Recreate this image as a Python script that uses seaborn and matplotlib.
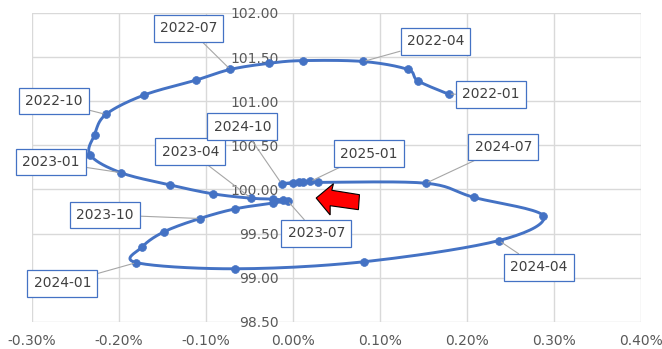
import matplotlib
matplotlib.use("Agg")
import matplotlib.pyplot as plt
from matplotlib.patches import Polygon
from matplotlib.ticker import FuncFormatter, MultipleLocator
import numpy as np
import seaborn as sns

# monthly points, Jan 2022 .. Jan 2025 (x in %, y index level)
months = ["2022-01", "2022-02", "2022-03", "2022-04", "2022-05", "2022-06",
          "2022-07", "2022-08", "2022-09", "2022-10", "2022-11", "2022-12",
          "2023-01", "2023-02", "2023-03", "2023-04", "2023-05", "2023-06",
          "2023-07", "2023-08", "2023-09", "2023-10", "2023-11", "2023-12",
          "2024-01", "2024-02", "2024-03", "2024-04", "2024-05", "2024-06",
          "2024-07", "2024-08", "2024-09", "2024-10", "2024-11", "2024-12",
          "2025-01"]
x_vals = [0.179, 0.144, 0.132, 0.081, 0.0115, -0.027,
          -0.072, -0.111, -0.171, -0.215, -0.228, -0.233,
          -0.198, -0.141, -0.092, -0.048, -0.023, -0.0115,
          -0.006, -0.023, -0.066, -0.107, -0.148, -0.173,
          -0.180, -0.066, 0.082, 0.237, 0.288, 0.208,
          0.153, 0.029, 0.012, -0.013, 0.000, 0.007,
          0.020]
y_vals = [101.08, 101.23, 101.36, 101.45, 101.46, 101.43,
          101.36, 101.24, 101.07, 100.85, 100.62, 100.39,
          100.19, 100.05, 99.95, 99.90, 99.89, 99.88,
          99.87, 99.845, 99.78, 99.67, 99.52, 99.35,
          99.17, 99.10, 99.18, 99.42, 99.70, 99.91,
          100.07, 100.08, 100.085, 100.065, 100.07, 100.08,
          100.09]

# where each quarterly label box sits (data coords)
label_pos = {
    "2022-01": (0.228, 101.076), "2022-04": (0.164, 101.678),
    "2022-07": (-0.120, 101.826), "2022-10": (-0.275, 101.00),
    "2023-01": (-0.278, 100.309), "2023-04": (-0.118, 100.428),
    "2023-07": (0.027, 99.502), "2023-10": (-0.216, 99.712),
    "2024-01": (-0.265, 98.934), "2024-04": (0.283, 99.116),
    "2024-07": (0.242, 100.48), "2024-10": (-0.058, 100.712),
    "2025-01": (0.087, 100.406),
}

BLUE = "#4472C4"

sns.set_style("white")
plt.rcParams["font.family"] = ["DejaVu Sans"]

fig = plt.figure(figsize=(6.62, 3.49), dpi=100)
ax = fig.add_axes([0.0483, 0.0782, 0.9195, 0.8846])

# smooth curve (Catmull-Rom as cubic Bezier, like Excel's smoothed line)
pts = np.column_stack([x_vals, y_vals])
n = len(pts)
curve = []
t = np.linspace(0, 1, 20)[:, None]
for i in range(n - 1):
    p0 = pts[max(i - 1, 0)]
    p1 = pts[i]
    p2 = pts[i + 1]
    p3 = pts[min(i + 2, n - 1)]
    c1 = p1 + (p2 - p0) / 6
    c2 = p2 - (p3 - p1) / 6
    seg = ((1 - t) ** 3) * p1 + 3 * ((1 - t) ** 2) * t * c1 + 3 * (1 - t) * t ** 2 * c2 + t ** 3 * p2
    curve.append(seg if i == 0 else seg[1:])
curve = np.vstack(curve)

sns.lineplot(x=curve[:, 0], y=curve[:, 1], sort=False, estimator=None,
             color=BLUE, linewidth=2.1, ax=ax, zorder=3)
sns.scatterplot(x=x_vals, y=y_vals, color=BLUE, s=32, edgecolor=BLUE,
                linewidth=0.5, ax=ax, zorder=4)

# quarterly labels
for m, (lx, ly) in label_pos.items():
    i = months.index(m)
    ax.annotate(m, xy=(x_vals[i], y_vals[i]), xytext=(lx, ly),
                ha="center", va="center", fontsize=10, color="#404040",
                bbox=dict(boxstyle="square,pad=0.45", fc="white", ec=BLUE, lw=0.9),
                arrowprops=dict(arrowstyle="-", color="#A6A6A6", lw=0.8,
                                shrinkA=0, shrinkB=2),
                zorder=6)

# red block arrow
arrow = [(0.0268, 99.902), (0.0467, 100.065), (0.0448, 99.99), (0.0766, 99.94),
         (0.0754, 99.77), (0.0429, 99.815), (0.0429, 99.71)]
ax.add_patch(Polygon(arrow, closed=True, fc="#FF0000", ec="black", lw=0.8, zorder=7))

ax.set_xlim(-0.30, 0.40)
ax.set_ylim(98.5, 102.0)
ax.xaxis.set_major_locator(MultipleLocator(0.1))
ax.yaxis.set_major_locator(MultipleLocator(0.5))
ax.xaxis.set_major_formatter(FuncFormatter(lambda v, p: f"{v:.2f}%"))
ax.yaxis.set_major_formatter(FuncFormatter(lambda v, p: f"{v:.2f}"))
ax.grid(True, color="#D9D9D9", linewidth=1)
ax.set_axisbelow(True)
for s in ["top", "right", "bottom"]:
    ax.spines[s].set_visible(False)
ax.spines["left"].set_position(("data", 0))
ax.spines["left"].set_color("none")
ax.tick_params(axis="both", length=0, labelsize=10, labelcolor="#595959")
ax.tick_params(axis="y", pad=10)
ax.tick_params(axis="x", pad=9)
ax.set_xlabel("")
ax.set_ylabel("")

fig.savefig("out.png", dpi=100)
